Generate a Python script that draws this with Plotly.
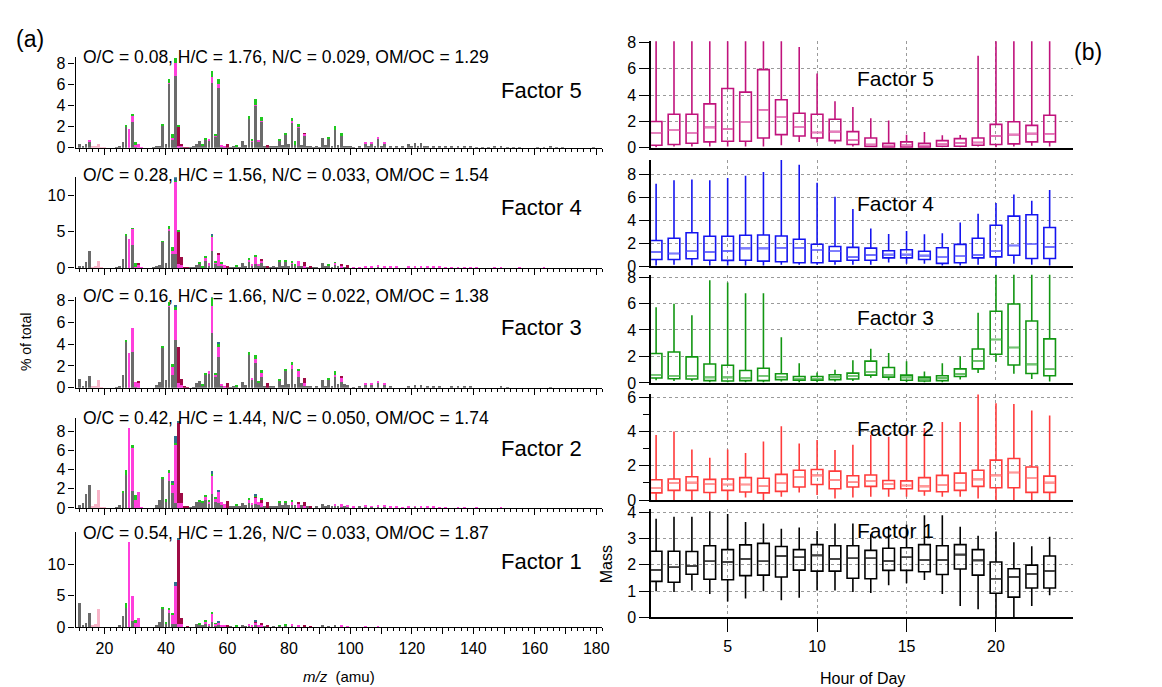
import plotly.graph_objects as go

FONT = "Liberation Sans, Arial, sans-serif"
W, H = 1162, 687

# ---------------- DATA ----------------
FAMILIES = ["CH", "CHO1", "CHOgt1", "CHN", "CHNO", "HO"]
FAM_COLORS = ["#6b6b6b", "#ff3fdc", "#9e0b45", "#1fc81f", "#2f6f8f", "#f8b4c8"]

# rows: (m/z, CH, CHO1, CHOgt1, CHN, CHNO, HO) ; missing trailing entries = 0
F5_ROWS = [
    (12, .35), (13, .1), (14, .35), (15, .6, .1), (16, 0, 0, 0, 0, 0, .1), (17, 0, 0, 0, 0, 0, .15),
    (18, 0, 0, 0, 0, 0, .35), (19, 0, 0, 0, 0, 0, .05), (20, 0, 0, 0, 0, 0, .05),
    (24, .05), (25, .1), (26, .55), (27, 2.0, 0, 0, .2), (28, 0, 1.75), (29, 2.4, .7, 0, .1),
    (30, .15, .1, 0, .3), (31, 0, .4), (32, 0, .05),
    (36, .05), (37, .1), (38, .2), (39, 2.1, 0, 0, .1), (40, .4), (41, 6.1, .05, 0, .35),
    (42, .7, .2, 0, .4), (43, 6.8, 1.2, 0, .55), (44, 0, .15, 1.9, .1), (45, .1, .1, .1),
    (46, 0, 0, .05), (47, 0, 0, .05), (48, .05), (49, .1),
    (50, .35), (51, .6), (52, .2, 0, 0, .1), (53, .8, 0, 0, .1), (54, .65, .15), (55, 6.1, .6, 0, .6),
    (56, 1.1, .1, 0, .1), (57, 5.7, .35, 0, .5), (58, .15, .1), (59, .05, .1), (60, 0, 0, .35),
    (61, .05), (62, .1), (63, .15, 0, 0, .15), (64, .05),
    (65, .6), (66, .25), (67, 2.7, 0, 0, .3), (68, .6, .1, 0, .1), (69, 4.0, .05, 0, .6), (70, .6, .15),
    (71, 2.5, .05, 0, .35), (72, .15), (73, 0, 0, .3), (74, .15), (75, .15), (76, .1),
    (77, .7, 0, 0, .1), (78, .3), (79, 1.2, 0, 0, .25), (80, .35), (81, 2.4, .15, 0, .3),
    (82, .3, 0, 0, .3), (83, 1.9, .1, 0, .3), (84, .3), (85, 1.2, .15, .05), (86, .1), (87, .1),
    (88, .05), (89, .1), (90, .05),
    (91, .95), (92, .25), (93, .85, 0, 0, .1), (94, .2), (95, 1.7, 0, 0, .4), (96, .3),
    (97, 1.1, 0, 0, .3), (98, .2), (99, .15), (100, .1),
    (101, .05), (103, .1), (105, .45, .1), (106, .1), (107, .4, .1), (108, .1), (109, .9, .1),
    (110, .15), (111, .45, .1), (113, .1), (115, .1), (117, .1), (119, .35), (120, .1), (121, .45),
    (122, .1), (123, .5), (124, .1), (125, .15), (127, .1), (129, .1), (131, .1), (133, .2),
    (135, .2), (137, .2), (139, .1), (141, .05), (143, .05), (145, .05), (147, .1), (149, .1),
    (151, .05), (153, .05), (155, .05), (161, .05), (163, .05), (165, .15), (167, .05), (169, .05),
    (179, .05),
]

F4_ROWS = [
    (12, .15), (13, .15), (14, .8), (15, 2.3), (16, 0, 0, 0, 0, 0, .1), (17, 0, 0, 0, 0, 0, .25),
    (18, 0, 0, 0, 0, 0, .95), (19, 0, 0, 0, 0, 0, .05),
    (24, .05), (25, .15), (26, 1.2), (27, 4.5, 0, 0, .2), (28, 0, 4.05), (29, 3.2, 2.2, 0, .1),
    (30, 0, .2, 0, .45), (31, 0, .5, .15), (32, 0, .05),
    (36, .05), (37, .2), (38, .4), (39, 3.6, 0, 0, .1), (40, .7), (41, 5.2, .2, 0, .4),
    (42, 1.9, .45, 0, .5), (43, 1.9, 10.1, 0, .1, .5), (44, 0, .5, 4.5, .3), (45, 0, .35, 1.2),
    (46, 0, 0, .1), (47, 0, 0, .05), (48, .05), (49, .05),
    (50, .45), (51, .55, 0, 0, .15), (52, .1, 0, 0, .2), (53, .9, .5, 0, .1), (54, .3, .4),
    (55, 2.4, 2.0, 0, .1, .2), (56, .5, .3, 0, .2), (57, .3, 1.6, .2), (58, .3, .3, 0, .2),
    (59, 0, .45), (60, 0, 0, .25), (61, .1), (62, .1), (63, .15, 0, 0, .2), (64, .05),
    (65, .7), (66, .3), (67, .9, .2, 0, .15), (68, .3, .1), (69, .6, .9, .1, .15), (70, .3, .3),
    (71, .7, .3, .2), (72, .2), (73, 0, 0, .3), (74, .1), (75, .15), (76, .1),
    (77, .85, 0, 0, .2), (78, .25), (79, .85, 0, 0, .2), (80, .3), (81, .5, .3, 0, .15),
    (82, .3, 0, 0, .1), (83, .3, .6), (84, .3), (85, 0, .3, .5), (86, .1), (87, 0, 0, .15),
    (88, .05), (89, .1),
    (91, .7), (92, .15), (93, .35, 0, 0, .15), (94, .1), (95, .4, .3, 0, .1), (96, .2),
    (97, 0, .3, .3), (98, .1), (99, 0, 0, .45),
    (101, 0, .1), (103, 0, .1), (105, .1, .2), (107, .1, .15), (109, .15, .2), (111, .1, .2),
    (113, 0, .15), (115, 0, .15), (119, .05, .1), (121, .1, .1), (123, .1, .1), (125, 0, .15),
    (127, 0, .15), (129, 0, .15), (131, 0, .1), (133, 0, .1), (135, 0, .1), (137, 0, .1),
    (139, 0, .1), (141, 0, .1), (147, 0, .05), (149, 0, .05), (155, 0, .05), (163, 0, .05),
]

F3_ROWS = [
    (12, .85), (13, .15), (14, .6), (15, 1.05), (16, 0, 0, 0, 0, 0, .1), (17, 0, 0, 0, 0, 0, .2),
    (18, 0, 0, 0, 0, 0, .7), (19, 0, 0, 0, 0, 0, .05),
    (24, .05), (25, .15), (26, 1.2), (27, 4.2, 0, 0, .2), (28, 0, 3.2), (29, 3.3, 2.2),
    (30, .1, .4), (31, 0, .5, .1),
    (37, .25), (38, .5), (39, 3.7, 0, 0, .1), (40, .7), (41, 7.4, .1, 0, .35), (42, 1.2, .7, 0, .3),
    (43, 4.4, 2.7, 0, .3, .1), (44, 0, .4, 3.3), (45, 0, .3, .5), (46, 0, 0, .1), (47, 0, 0, .05),
    (49, .05),
    (50, .4), (51, .6), (52, .2, 0, 0, .1), (53, 1.2, 0, 0, .1), (54, 1.3, .2),
    (55, 5.0, 2.5, 0, .7, .2), (56, 1.0, .15, 0, .15), (57, 2.8, .9, 0, .3, .1), (58, .15, .1),
    (59, 0, .15), (60, 0, 0, .45), (61, .05), (62, .1), (63, .1, 0, 0, .2),
    (65, .55), (66, .3), (67, 3.0, 0, 0, .3), (68, .7, .2), (69, 2.3, .3, 0, .4), (70, .4, 0, 0, .2),
    (71, 1.0, .4, 0, .25), (72, .2), (73, 0, 0, .45), (74, .1), (75, .1),
    (77, .65, 0, 0, .1), (78, .3), (79, 1.5, 0, 0, .2), (80, .35), (81, 1.7, .4, 0, .3), (82, .35),
    (83, 1.0, .6, 0, .15), (84, .4), (85, .2, .2, .5), (86, .1), (87, .1), (89, .1),
    (91, .75), (92, .15), (93, .7, 0, 0, .1), (94, .2), (95, 1.0, .2, 0, .3), (96, .35),
    (97, .5, .4, .1), (98, .35), (99, .3),
    (101, .05), (103, .1), (105, .3, .1), (107, .25, .1), (109, .45, .1), (111, .25, .1), (113, .1),
    (119, .2), (121, .3), (123, .3), (125, .15), (127, .1), (129, .1), (133, .1), (135, .15),
    (137, .15), (139, .1), (149, .1), (151, .05), (165, .05),
]

F2_ROWS = [
    (12, .35), (13, .5), (14, 1.45), (15, 2.4), (16, 0, 0, 0, 0, 0, .1), (17, 0, 0, 0, 0, 0, .45),
    (18, 0, 0, 0, 0, 0, 1.9), (19, 0, 0, 0, 0, 0, .05), (20, 0, 0, 0, 0, 0, .05),
    (24, .05), (25, .3), (26, 1.6, 0, 0, .15), (27, 3.4, 0, 0, .6), (28, 0, 8.3),
    (29, 1.8, 4.5, 0, .2), (30, 0, .85, 0, .45), (31, 0, 1.7), (32, 0, .05),
    (37, .35), (38, .8), (39, 3.0, 0, 0, .2), (40, .6, 0, 0, .3), (41, 2.8, .8, 0, .4),
    (42, 1.6, .8, 0, .15, .25), (43, .5, 6.0, 0, .3, .7), (44, 0, .55, 8.3, 0, .1),
    (45, 0, .5, 1.05), (46, 0, 0, .1), (47, 0, 0, .15), (48, .05), (49, .1),
    (50, .65), (51, .65, 0, 0, .1), (52, .5, 0, 0, .1), (53, .8, .3, 0, .15), (54, .4, .25, 0, .1),
    (55, 1.4, 1.9, 0, .2, .3), (56, .6, .3, 0, .15), (57, .5, 1.2, 0, 0, .2), (58, .3, .3),
    (59, 0, .45), (60, 0, 0, .75), (61, .2), (62, .2), (63, .2, 0, 0, .25), (64, .2),
    (65, .55), (66, .3), (67, .5, .3, 0, .1), (68, .3, .2), (69, .4, .6, .2, .1, .15), (70, .3, .3),
    (71, .15, .4, .3, .1), (72, .2), (73, 0, 0, .65), (74, .15), (75, .2), (76, .1),
    (77, .5, 0, 0, .2), (78, .3), (79, .5, 0, 0, .15), (80, .3), (81, .3, .3, 0, .1), (82, .3),
    (83, 0, .4, .15), (84, .3), (85, 0, .2, .4), (86, .1), (87, 0, 0, .2), (89, .1),
    (91, .45), (92, .2), (93, .3), (94, .2), (95, .2, .15), (96, .2), (97, .1, .3), (98, .25),
    (99, .1, .2),
    (101, .05, .05), (103, .1), (105, .1, .1), (107, .1, .05), (109, .15, .1), (111, .1, .1),
    (113, 0, .15), (115, 0, .1), (117, 0, .05), (119, .05, .05), (121, .1, .05), (123, .05, .1),
    (125, 0, .1), (127, 0, .1), (129, 0, .05), (131, 0, .05), (135, 0, .05), (137, 0, .05),
    (141, 0, .05), (149, 0, .05),
]

F1_ROWS = [
    (12, 3.8), (13, .45), (14, .75), (15, 2.25), (16, 0, 0, 0, 0, 0, .3), (17, 0, 0, 0, 0, 0, .6),
    (18, 0, 0, 0, 0, 0, 2.9), (19, 0, 0, 0, 0, 0, .05), (20, 0, 0, 0, 0, 0, .05),
    (25, .3), (26, 1.85), (27, 3.1, 0, 0, .7), (28, 0, 13.5), (29, 1.0, 4.0), (30, .1, .6, 0, .5),
    (31, 0, 1.55),
    (37, .35), (38, .8), (39, 3.1, 0, 0, .1), (40, .7, 0, 0, .2), (41, 2.2, .5, 0, .35),
    (42, .5, 1.6, 0, .25), (43, .5, 6.0, 0, 0, .7), (44, 0, .5, 13.4, 0, .3), (45, 0, .5, 1.0),
    (46, 0, 0, .1), (47, 0, 0, .15),
    (50, .55), (51, .55, 0, 0, .1), (52, .35), (53, .6, .35, 0, .15), (54, .2, .4),
    (55, .9, 1.4, 0, .15), (56, .4, .2, 0, .1), (57, .3, .6, 0, 0, .15), (58, .2, .2), (59, .1, .2),
    (60, 0, 0, .35), (61, .2), (62, .1), (63, .1, 0, 0, .2), (64, .1),
    (65, .45), (66, .2), (67, .4, .15), (68, .2, .1), (69, .3, .5, .2, 0, .1), (70, .2, .2),
    (71, 0, .3, .4), (72, .2), (73, 0, 0, .3), (75, .2), (77, .3, 0, 0, .1), (79, .35, 0, 0, .1),
    (81, .3, .2), (83, .1, .3), (85, 0, .2, .25), (87, 0, 0, .2),
    (91, .35), (93, .2), (95, .3), (97, .1, .25), (99, 0, .2),
    (103, 0, .1), (105, 0, .15), (107, 0, .1), (109, 0, .15), (111, 0, .1), (113, 0, .1),
    (115, 0, .1), (119, 0, .05), (121, 0, .1), (123, 0, .05), (125, 0, .1), (129, 0, .05),
    (135, 0, .05), (137, 0, .05), (149, 0, .05),
]

ELEMENTAL = [
    "O/C = 0.08, H/C = 1.76, N/C = 0.029, OM/OC = 1.29",
    "O/C = 0.28, H/C = 1.56, N/C = 0.033, OM/OC = 1.54",
    "O/C = 0.16, H/C = 1.66, N/C = 0.022, OM/OC = 1.38",
    "O/C = 0.42, H/C = 1.44, N/C = 0.050, OM/OC = 1.74",
    "O/C = 0.54, H/C = 1.26, N/C = 0.033, OM/OC = 1.87",
]
FACTOR_NAMES = ["Factor 5", "Factor 4", "Factor 3", "Factor 2", "Factor 1"]

HOURS = list(range(1, 24))

F5_LO = [.05, .1, .1, .1, .1, .1, .1, .2, .45, .4, .3, .1, .05, .02, .02, .02, .05, .05, .1, .05, .1, .15, .1]
F5_Q1 = [.2, .25, .35, .45, .5, .5, .75, 1.0, .9, .75, .55, .25, .1, .05, .05, .05, .12, .12, .2, .25, .3, .45, .45]
F5_MED = [1.14, 1.33, 1.14, 1.55, 1.43, 1.98, 2.86, 2.32, 1.6, 1.16, 1.23, .6, .25, .17, .2, .17, .3, .37, .4, .9, 1.0, 1.08, 1.04]
F5_Q3 = [2.0, 2.55, 2.55, 3.33, 4.5, 4.22, 5.93, 3.65, 2.62, 2.55, 2.17, 1.23, .75, .35, .45, .35, .55, .7, .75, 1.78, 1.98, 1.7, 2.47]
F5_HI = [10, 10, 10, 10, 10, 10, 10, 10, 7.65, 5.63, 3.53, 3.1, 2.25, 2.07, 1.0, 1.2, .95, .97, 6.98, 10, 10, 10, 10]

F4_LO = [.05, .1, .05, .05, .05, .05, .05, .1, .1, .1, .1, .1, .1, .3, .2, .2, .05, .05, .1, 0, .2, .1, .05]
F4_Q1 = [.57, .57, .63, .51, .49, .51, .43, .37, .29, .29, .43, .51, .51, .71, .71, .57, .23, .29, .71, .8, .94, .66, .66]
F4_MED = [1.23, 1.09, 1.29, 1.23, 1.31, 1.54, 1.54, 1.57, 1.57, 1.43, 1.29, .8, .97, 1.0, 1.0, .91, .77, .86, .97, 1.29, 1.8, 1.91, 1.66]
F4_Q3 = [2.23, 2.43, 2.91, 2.6, 2.6, 2.69, 2.71, 2.63, 2.34, 1.91, 1.71, 1.63, 1.57, 1.34, 1.43, 1.29, 1.6, 1.89, 2.43, 3.57, 4.37, 4.49, 3.37]
F4_HI = [7.2, 7.5, 7.57, 7.51, 7.71, 7.91, 8.23, 9.29, 8.86, 7.29, 6.06, 5.0, 3.29, 2.8, 3.06, 2.77, 2.86, 3.8, 4.57, 5.51, 6.26, 5.71, 6.66]

F3_LO = [.2, .15, .15, .05, .05, .05, .05, .1, .05, .05, .1, .15, .4, .2, .05, .05, .05, .25, .75, 1.6, .7, .3, .1]
F3_Q1 = [.37, .32, .3, .17, .15, .17, .17, .25, .2, .2, .25, .3, .59, .44, .2, .15, .17, .49, 1.06, 2.17, 1.35, .71, .54]
F3_MED = [.62, .54, .54, .42, .42, .39, .54, .47, .32, .32, .44, .54, .84, .62, .42, .3, .37, .67, 1.65, 3.28, 2.68, 1.4, 1.06]
F3_Q3 = [2.22, 2.34, 1.97, 1.43, 1.33, .94, 1.11, .69, .49, .49, .62, .74, 1.65, 1.16, .59, .44, .54, 1.06, 2.56, 5.42, 5.96, 4.68, 3.33]
F3_HI = [5.71, 5.99, 5.12, 7.76, 7.59, 6.77, 6.77, 3.45, 1.48, .79, .99, 1.72, 2.59, 2.27, 1.63, .86, 1.48, 2.02, 5.3, 10, 10, 10, 10]

F2_LO = [0, 0, 0, 0, 0, .15, 0, .2, .45, .3, .1, .15, .2, .2, .2, .25, .2, .2, .1, 0, 0, 0, 0]
F2_Q1 = [.42, .57, .57, .44, .57, .47, .42, .51, .76, .91, .66, .76, .8, .66, .66, .53, .49, .57, .8, .72, .72, .45, .45]
F2_MED = [.72, .98, 1.02, .95, .91, .91, .83, .98, 1.36, 1.44, 1.17, 1.06, 1.1, .95, .85, .8, .87, 1.0, 1.21, 1.44, 1.61, 1.27, 1.02]
F2_Q3 = [1.19, 1.23, 1.36, 1.21, 1.23, 1.31, 1.27, 1.5, 1.74, 1.78, 1.69, 1.42, 1.46, 1.14, 1.12, 1.31, 1.44, 1.57, 1.74, 2.33, 2.42, 1.93, 1.4]
F2_HI = [3.79, 4.0, 2.94, 2.46, 2.94, 2.75, 3.41, 4.3, 3.3, 3.5, 2.92, 3.22, 3.79, 3.69, 3.88, 4.2, 4.55, 4.55, 6.15, 5.64, 5.59, 5.21, 4.92]

F1_LO = [.99, .97, 1.02, .89, .6, .72, .99, .65, .75, 1.02, 1.02, .97, .93, 1.22, 1.3, 1.42, .89, .43, .31, 0, 0, .43, .84]
F1_Q1 = [1.37, 1.34, 1.64, 1.45, 1.43, 1.59, 1.61, 1.54, 1.8, 1.76, 1.76, 1.49, 1.47, 1.79, 1.79, 1.74, 1.63, 1.84, 1.61, .92, .77, 1.12, 1.12]
F1_MED = [1.8, 1.91, 1.95, 2.14, 2.11, 2.22, 2.14, 2.34, 2.29, 2.36, 2.22, 2.25, 2.25, 2.15, 2.29, 2.19, 2.19, 2.39, 2.17, 1.47, 1.54, 1.65, 1.76]
F1_Q3 = [2.52, 2.52, 2.51, 2.73, 2.58, 2.76, 2.82, 2.7, 2.58, 2.77, 2.73, 2.73, 2.55, 2.63, 2.65, 2.77, 2.73, 2.77, 2.58, 2.11, 1.85, 1.99, 2.34]
F1_HI = [3.76, 3.83, 3.83, 4.04, 3.94, 3.63, 3.58, 3.38, 3.42, 3.29, 3.58, 3.58, 3.17, 3.48, 3.54, 3.89, 3.89, 3.45, 3.11, 3.27, 2.86, 2.71, 3.07]

BOX_COLORS = ["#c0137c", "#1414f0", "#129612", "#ff3b3b", "#000000"]
MED_COLORS = ["#e77fbd", "#7d7dff", "#74c474", "#ff9a9a", "#444444"]

# ---------------- LAYOUT GEOMETRY (pixels) ----------------
def fx(p):
    return p / W


def fy(p):
    return 1 - p / H


LEFT_X = (68, 598)
LEFT_XRANGE = [10.6, 182]
LEFT_PANELS = [  # (top px, bottom px, ymax, tickvals)
    (43, 136, 8.6, [0, 2, 4, 6, 8]),
    (166, 259, 12.57, [0, 5, 10]),
    (289, 381.7, 8.3, [0, 2, 4, 6, 8]),
    (413, 504.7, 9.32, [0, 2, 4, 6, 8]),
    (529, 627, 15.15, [0, 5, 10]),
]
LEFT_TEXT_Y = [43, 164, 288, 413, 530]
LEFT_LABEL_Y = [77, 197, 320, 444, 560]

RIGHT_X = (647, 1071)
RIGHT_XRANGE = [0.72, 24.28]
RIGHT_PANELS = [
    (27, 136, 8.07, [0, 2, 4, 6, 8], None),
    (148, 257, 9.32, [0, 2, 4, 6, 8], None),
    (266, 376.7, 8.17, [0, 2, 4, 6, 8], None),
    (388, 496.7, 6.18, [0, 2, 4, 6], [1, 3, 5]),
    (506, 616.7, 4.12, [0, 1, 2, 3, 4], None),
]
RIGHT_LABEL_Y = [65, 193, 310, 423, 528]

fig = go.Figure()
layout = dict(
    width=W, height=H, margin=dict(l=0, r=0, t=0, b=0),
    paper_bgcolor="white", plot_bgcolor="white", showlegend=False,
    barmode="stack", bargap=0.1,
    font=dict(family=FONT, size=16, color="black"),
)

ALL_ROWS = [F5_ROWS, F4_ROWS, F3_ROWS, F2_ROWS, F1_ROWS]
BOX_DATA = [
    (F5_LO, F5_Q1, F5_MED, F5_Q3, F5_HI),
    (F4_LO, F4_Q1, F4_MED, F4_Q3, F4_HI),
    (F3_LO, F3_Q1, F3_MED, F3_Q3, F3_HI),
    (F2_LO, F2_Q1, F2_MED, F2_Q3, F2_HI),
    (F1_LO, F1_Q1, F1_MED, F1_Q3, F1_HI),
]

annotations = []

# ---------------- LEFT: stacked mass spectra ----------------
for i, rows in enumerate(ALL_ROWS):
    n = i + 1
    xa, ya = f"x{n}", f"y{n}"
    mz = [r[0] for r in rows]
    for k, fam in enumerate(FAMILIES):
        vals = [r[k + 1] if len(r) > k + 1 else 0 for r in rows]
        fig.add_trace(go.Bar(
            x=mz, y=vals, xaxis=xa, yaxis=ya, name=fam,
            marker=dict(color=FAM_COLORS[k], line=dict(width=0)),
            width=0.92, hoverinfo="skip",
        ))
    top, bot, ymax, tv = LEFT_PANELS[i]
    bottom = (i == 4)
    layout[f"xaxis{n}"] = dict(
        domain=[fx(LEFT_X[0]), fx(LEFT_X[1])], range=LEFT_XRANGE, anchor=ya,
        showline=True, linecolor="black", linewidth=1.2, showgrid=False, zeroline=False,
        ticks="outside", ticklen=6, tickcolor="black", tickwidth=1,
        tickmode="array", tickvals=list(range(10, 181, 10)),
        ticktext=[str(v) if (v % 20 == 0) else "" for v in range(10, 181, 10)],
        showticklabels=bottom, tickfont=dict(size=16),
        minor=dict(tickmode="linear", tick0=0, dtick=2, ticks="outside", ticklen=3,
                   tickcolor="black", showgrid=False),
    )
    layout[f"yaxis{n}"] = dict(
        domain=[fy(bot), fy(top)], range=[0, ymax], anchor=xa,
        showline=True, linecolor="black", linewidth=1.2, showgrid=False, zeroline=False,
        ticks="outside", ticklen=6, tickcolor="black", tickvals=tv,
        tickfont=dict(size=16),
    )
    annotations.append(dict(
        x=fx(73), y=fy(LEFT_TEXT_Y[i]), xref="paper", yref="paper",
        text=ELEMENTAL[i], showarrow=False, xanchor="left", yanchor="middle",
        font=dict(size=17.5, family=FONT),
    ))
    annotations.append(dict(
        x=fx(537), y=fy(LEFT_LABEL_Y[i]), xref="paper", yref="paper",
        text=FACTOR_NAMES[i], showarrow=False, xanchor="center", yanchor="middle",
        font=dict(size=22, family=FONT),
    ))

# ---------------- RIGHT: diurnal box plots ----------------
for i, (lo, q1, med, q3, hi) in enumerate(BOX_DATA):
    n = i + 6
    xa, ya = f"x{n}", f"y{n}"
    fig.add_trace(go.Box(
        x=HOURS, q1=q1, median=med, q3=q3, lowerfence=lo, upperfence=hi,
        xaxis=xa, yaxis=ya, width=0.65, whiskerwidth=0,
        line=dict(color=BOX_COLORS[i], width=1.6), fillcolor="rgba(255,255,255,0)",
        boxpoints=False, hoverinfo="skip",
    ))
    mx, my = [], []
    for h, m in zip(HOURS, med):
        mx += [h - 0.3, h + 0.3, None]
        my += [m, m, None]
    fig.add_trace(go.Scatter(
        x=mx, y=my, xaxis=xa, yaxis=ya, mode="lines",
        line=dict(color=MED_COLORS[i], width=1.6), hoverinfo="skip",
    ))
    top, bot, ymax, tv, minor_tv = RIGHT_PANELS[i]
    bottom = (i == 4)
    layout[f"xaxis{n}"] = dict(
        domain=[fx(RIGHT_X[0]), fx(RIGHT_X[1])], range=RIGHT_XRANGE, anchor=ya,
        showline=True, linecolor="black", linewidth=2, zeroline=False,
        showgrid=True, gridcolor="#9a9a9a", griddash="dot", gridwidth=1,
        tickmode="array", tickvals=[5, 10, 15, 20],
        ticks="outside" if bottom else "", ticklen=13, tickcolor="black", tickwidth=1.2,
        showticklabels=bottom, tickfont=dict(size=16),
    )
    ydict = dict(
        domain=[fy(bot), fy(top)], range=[0, ymax], anchor=xa,
        showline=True, linecolor="black", linewidth=1.6, zeroline=False,
        showgrid=True, gridcolor="#9a9a9a", griddash="dot", gridwidth=1,
        ticks="outside", ticklen=10, tickcolor="black", tickwidth=1.2,
        tickmode="array", tickvals=tv, tickfont=dict(size=16),
    )
    if minor_tv:
        ydict["minor"] = dict(tickmode="array", tickvals=minor_tv, ticks="outside",
                              ticklen=6, tickcolor="black", showgrid=False)
    layout[f"yaxis{n}"] = ydict
    annotations.append(dict(
        x=fx(893), y=fy(RIGHT_LABEL_Y[i]), xref="paper", yref="paper",
        text=FACTOR_NAMES[i], showarrow=False, xanchor="center", yanchor="middle",
        font=dict(size=21, family=FONT),
    ))

# ---------------- titles & panel tags ----------------
annotations += [
    dict(x=fx(22), y=fy(25), xref="paper", yref="paper", text="(a)", showarrow=False,
         xanchor="center", yanchor="middle", font=dict(size=23, family=FONT)),
    dict(x=fx(1087), y=fy(38), xref="paper", yref="paper", text="(b)", showarrow=False,
         xanchor="center", yanchor="middle", font=dict(size=23, family=FONT)),
    dict(x=fx(18), y=fy(335), xref="paper", yref="paper", text="% of total", showarrow=False,
         textangle=-90, xanchor="center", yanchor="middle", font=dict(size=14, family=FONT)),
    dict(x=fx(333), y=fy(677), xref="paper", yref="paper", text="<i>m/z</i>  (amu)",
         showarrow=False, xanchor="center", yanchor="middle", font=dict(size=15, family=FONT)),
    dict(x=fx(603), y=fy(562), xref="paper", yref="paper", text="Mass", showarrow=False,
         textangle=-90, xanchor="center", yanchor="middle", font=dict(size=16, family=FONT)),
    dict(x=fx(860), y=fy(679), xref="paper", yref="paper", text="Hour of Day", showarrow=False,
         xanchor="center", yanchor="middle", font=dict(size=16, family=FONT)),
]
layout["annotations"] = annotations

fig.update_layout(**layout)
fig.write_html("out.html")
